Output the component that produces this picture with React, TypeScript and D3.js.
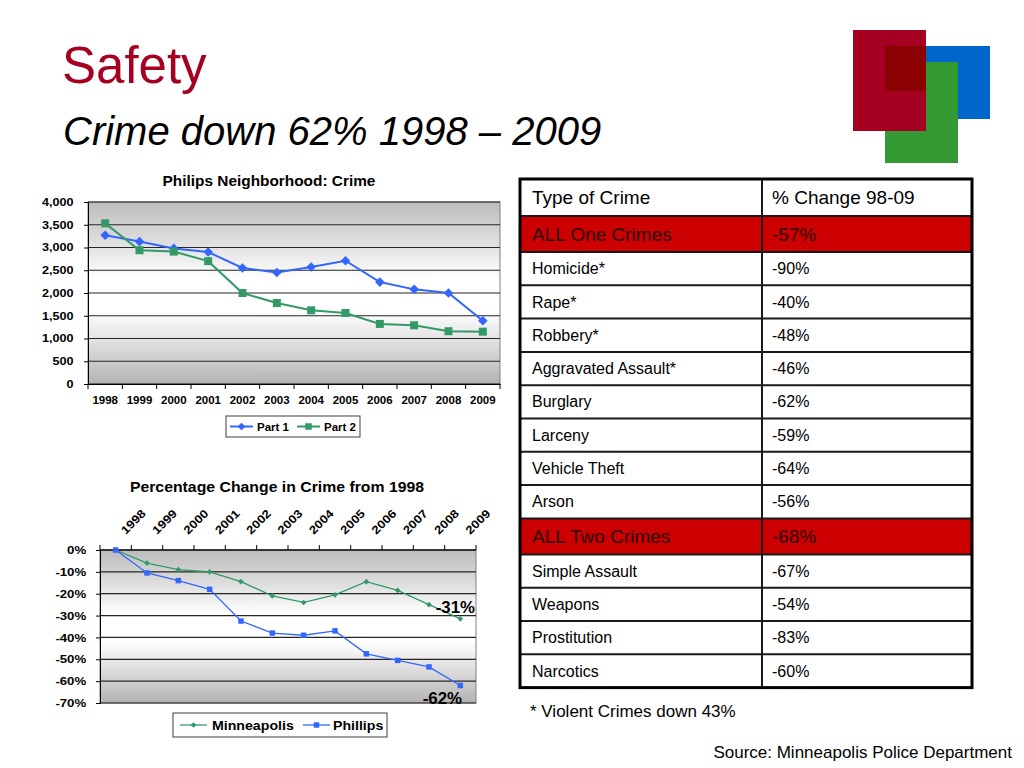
import React, { useEffect, useRef } from 'react'
import * as d3 from 'd3'

const years = ['1998', '1999', '2000', '2001', '2002', '2003', '2004', '2005', '2006', '2007', '2008', '2009']
const part1 = [3270, 3130, 2980, 2900, 2550, 2450, 2570, 2710, 2240, 2080, 2000, 1390]
const part2 = [3530, 2940, 2910, 2700, 2000, 1780, 1620, 1560, 1320, 1290, 1160, 1150]
const minneapolis = [0, -6, -9, -10, -14.5, -21, -24, -20.5, -14.5, -18.5, -25, -31.5]
const phillips = [0, -10.5, -14, -18, -32.5, -38, -39, -37, -47.5, -50.5, -53.5, -62]
const crimeTypes = ['ALL One Crimes', 'Homicide*', 'Rape*', 'Robbery*', 'Aggravated Assault*', 'Burglary', 'Larceny', 'Vehicle Theft', 'Arson', 'ALL Two Crimes', 'Simple Assault', 'Weapons', 'Prostitution', 'Narcotics']
const crimeChanges = ['-57%', '-90%', '-40%', '-48%', '-46%', '-62%', '-59%', '-64%', '-56%', '-68%', '-67%', '-54%', '-83%', '-60%']
const highlightRows = ['ALL One Crimes', 'ALL Two Crimes']

const FONT = '"Liberation Sans", Arial, Helvetica, sans-serif'
const BLUE = '#3366ff'
const GREEN = '#339966'
// the chart pictures in the slide are a bit stretched sideways
const SX = 1.15

export default function App() {
  const svgRef = useRef<SVGSVGElement>(null)

  useEffect(() => {
    if (!svgRef.current) return
    const svg = d3.select(svgRef.current)
    svg.selectAll('*').remove()
    svg.attr('font-family', FONT)

    const defs = svg.append('defs')
    const grad = defs.append('linearGradient').attr('id', 'plotBg').attr('x1', 0).attr('y1', 0).attr('x2', 0).attr('y2', 1)
    ;[
      [0, '#bcbcbc'],
      [0.22, '#dedede'],
      [0.42, '#ffffff'],
      [0.6, '#ffffff'],
      [0.8, '#dadada'],
      [1, '#b3b3b3'],
    ].forEach(([o, c]) => grad.append('stop').attr('offset', o as number).attr('stop-color', c as string))

    // ---- titles
    svg.append('text')
      .attr('x', 62).attr('y', 83)
      .attr('font-size', 51)
      .attr('fill', '#a50021')
      .text('Safety')
    svg.append('text')
      .attr('x', 63).attr('y', 145)
      .attr('font-size', 40)
      .attr('font-style', 'italic')
      .attr('fill', '#000')
      .text('Crime down 62% 1998 \u2013 2009')

    // ---- logo
    svg.append('rect').attr('x', 885).attr('y', 46).attr('width', 105).attr('height', 73).attr('fill', '#0066cc')
    svg.append('rect').attr('x', 885).attr('y', 62).attr('width', 73).attr('height', 101).attr('fill', '#339933')
    svg.append('rect').attr('x', 853).attr('y', 30).attr('width', 73).attr('height', 101).attr('fill', '#a50021')
    svg.append('rect').attr('x', 885).attr('y', 46).attr('width', 41).attr('height', 45).attr('fill', '#8b0000')

    // ---- top chart
    {
      const x = d3.scaleBand().domain(years).range([88, 500])
      const y = d3.scaleLinear().domain([0, 4000]).range([384, 202])
      const g = svg.append('g')
      const cx = (d: string) => (x(d) || 0) + x.bandwidth() / 2

      g.append('text').attr('transform', 'translate(269,186) scale(1.1,1)').attr('text-anchor', 'middle')
        .attr('font-size', 14).attr('font-weight', 'bold').text('Philips Neighborhood: Crime')

      g.append('rect').attr('x', 88).attr('y', 202).attr('width', 412).attr('height', 182)
        .attr('fill', 'url(#plotBg)').attr('stroke', '#808080')

      y.ticks(8).forEach((t) => {
        g.append('line').attr('x1', 88).attr('x2', 500).attr('y1', y(t)).attr('y2', y(t))
          .attr('stroke', '#262626').attr('stroke-width', 1.2)
      })

      const yAxis = g.append('g').attr('transform', 'translate(88,0)')
        .call(d3.axisLeft(y).ticks(8).tickSize(4).tickPadding(8).tickFormat((d) => d3.format(',')(d as number)))
      yAxis.selectAll('text').attr('font-size', 10.5).attr('font-weight', 'bold').attr('font-family', FONT).attr('fill', '#000')
        .attr('transform', `scale(${SX + 0.05},1)`)
      yAxis.selectAll('.domain, .tick line').attr('stroke', '#000')

      const xAxis = g.append('g').attr('transform', 'translate(0,384)')
        .call(d3.axisBottom(x).tickSize(0).tickPadding(13))
      xAxis.selectAll('text').attr('font-size', 10).attr('font-weight', 'bold').attr('font-family', FONT).attr('fill', '#000')
        .attr('transform', `scale(${SX},1)`)
      xAxis.select('.domain').attr('stroke', '#000')
      years.concat(['end']).forEach((d, i) => {
        const xx = i < years.length ? (x(d) || 0) : x.range()[1]
        g.append('line').attr('x1', xx).attr('x2', xx).attr('y1', 384).attr('y2', 389).attr('stroke', '#000')
      })

      const line = d3.line<number>().x((_, i) => cx(years[i])).y((d) => y(d))
      g.append('path').datum(part1).attr('d', line).attr('fill', 'none').attr('stroke', BLUE).attr('stroke-width', 2)
      g.append('path').datum(part2).attr('d', line).attr('fill', 'none').attr('stroke', GREEN).attr('stroke-width', 2)

      const diamond = d3.symbol(d3.symbolSquare, 46)()
      const square = d3.symbol(d3.symbolSquare, 64)()
      g.selectAll('.p1').data(part1).join('path').attr('class', 'p1')
        .attr('d', diamond).attr('fill', BLUE)
        .attr('transform', (d, i) => `translate(${cx(years[i])},${y(d)}) rotate(45)`)
      g.selectAll('.p2').data(part2).join('path').attr('class', 'p2')
        .attr('d', square).attr('fill', GREEN)
        .attr('transform', (d, i) => `translate(${cx(years[i])},${y(d)})`)

      const lg = g.append('g')
      lg.append('rect').attr('x', 226).attr('y', 416).attr('width', 134).attr('height', 21)
        .attr('fill', '#fff').attr('stroke', '#404040')
      lg.append('line').attr('x1', 230).attr('x2', 253).attr('y1', 426.5).attr('y2', 426.5).attr('stroke', BLUE).attr('stroke-width', 2)
      lg.append('path').attr('d', d3.symbol(d3.symbolSquare, 30)()).attr('fill', BLUE).attr('transform', 'translate(241.5,426.5) rotate(45)')
      lg.append('text').attr('x', 257).attr('y', 430.5).attr('font-size', 11.5).attr('font-weight', 'bold').text('Part 1')
      lg.append('line').attr('x1', 297).attr('x2', 320).attr('y1', 426.5).attr('y2', 426.5).attr('stroke', GREEN).attr('stroke-width', 2)
      lg.append('path').attr('d', d3.symbol(d3.symbolSquare, 42)()).attr('fill', GREEN).attr('transform', 'translate(308.5,426.5)')
      lg.append('text').attr('x', 324).attr('y', 430.5).attr('font-size', 11.5).attr('font-weight', 'bold').text('Part 2')
    }

    // ---- bottom chart
    {
      const x = d3.scaleBand().domain(years).range([100, 476])
      const y = d3.scaleLinear().domain([-70, 0]).range([703, 550])
      const g = svg.append('g')
      const cx = (d: string) => (x(d) || 0) + x.bandwidth() / 2

      g.append('text').attr('transform', `translate(277,492) scale(${SX - 0.02},1)`).attr('text-anchor', 'middle')
        .attr('font-size', 14).attr('font-weight', 'bold').text('Percentage Change in Crime from 1998')

      g.append('rect').attr('x', 100).attr('y', 550).attr('width', 376).attr('height', 153)
        .attr('fill', 'url(#plotBg)').attr('stroke', '#808080')

      y.ticks(7).forEach((t) => {
        g.append('line').attr('x1', 100).attr('x2', 476).attr('y1', y(t)).attr('y2', y(t))
          .attr('stroke', '#262626').attr('stroke-width', 1.2)
      })

      const yAxis = g.append('g').attr('transform', 'translate(100,0)')
        .call(d3.axisLeft(y).ticks(7).tickSize(4).tickPadding(8).tickFormat((d) => `${d}%`))
      yAxis.selectAll('text').attr('font-size', 11.5).attr('font-weight', 'bold').attr('font-family', FONT).attr('fill', '#000')
        .attr('transform', `scale(${SX},1)`)
      yAxis.selectAll('.domain, .tick line').attr('stroke', '#000')

      g.append('line').attr('x1', 100).attr('x2', 476).attr('y1', 550).attr('y2', 550).attr('stroke', '#000')
      years.concat(['end']).forEach((d, i) => {
        const xx = i < years.length ? (x(d) || 0) : x.range()[1]
        g.append('line').attr('x1', xx).attr('x2', xx).attr('y1', 545).attr('y2', 550).attr('stroke', '#000')
      })
      g.selectAll('.xl').data(years).join('text').attr('class', 'xl')
        .attr('transform', (d) => `translate(${cx(d) + 10},535) rotate(-45) scale(${SX},1)`)
        .attr('font-size', 11.5).attr('font-weight', 'bold').text((d) => d)

      const line = d3.line<number>().x((_, i) => cx(years[i])).y((d) => y(d))
      g.append('path').datum(minneapolis).attr('d', line).attr('fill', 'none').attr('stroke', GREEN).attr('stroke-width', 1.3)
      g.append('path').datum(phillips).attr('d', line).attr('fill', 'none').attr('stroke', BLUE).attr('stroke-width', 1.3)

      const diamond = d3.symbol(d3.symbolSquare, 16)()
      const square = d3.symbol(d3.symbolSquare, 30)()
      g.selectAll('.mn').data(minneapolis).join('path').attr('class', 'mn')
        .attr('d', diamond).attr('fill', GREEN)
        .attr('transform', (d, i) => `translate(${cx(years[i])},${y(d)}) rotate(45)`)
      g.selectAll('.ph').data(phillips).join('path').attr('class', 'ph')
        .attr('d', square).attr('fill', BLUE)
        .attr('transform', (d, i) => `translate(${cx(years[i])},${y(d)})`)

      const last = years.length - 1
      g.append('text').attr('transform', `translate(${cx(years[last]) - 5},${y(minneapolis[last]) - 6}) scale(1.05,1)`)
        .attr('text-anchor', 'middle').attr('font-size', 16).attr('font-weight', 'bold').text('-31%')
      g.append('text').attr('transform', `translate(${cx(years[last]) - 18},${y(phillips[last]) + 18}) scale(1.05,1)`)
        .attr('text-anchor', 'middle').attr('font-size', 16).attr('font-weight', 'bold').text('-62%')

      const lg = g.append('g')
      lg.append('rect').attr('x', 173).attr('y', 713).attr('width', 214).attr('height', 24)
        .attr('fill', '#fff').attr('stroke', '#404040')
      lg.append('line').attr('x1', 180).attr('x2', 207).attr('y1', 725).attr('y2', 725).attr('stroke', GREEN).attr('stroke-width', 1.3)
      lg.append('path').attr('d', d3.symbol(d3.symbolSquare, 16)()).attr('fill', GREEN).attr('transform', 'translate(193.5,725) rotate(45)')
      lg.append('text').attr('transform', 'translate(212,729.5) scale(1.09,1)').attr('font-size', 13).attr('font-weight', 'bold').text('Minneapolis')
      lg.append('line').attr('x1', 303).attr('x2', 330).attr('y1', 725).attr('y2', 725).attr('stroke', BLUE).attr('stroke-width', 1.3)
      lg.append('path').attr('d', d3.symbol(d3.symbolSquare, 30)()).attr('fill', BLUE).attr('transform', 'translate(316.5,725)')
      lg.append('text').attr('transform', 'translate(333,729.5) scale(1.09,1)').attr('font-size', 13).attr('font-weight', 'bold').text('Phillips')
    }

    // ---- table
    {
      const left = 520
      const mid = 762
      const right = 972
      const rowH = crimeTypes.map((t) => (highlightRows.includes(t) ? 36 : 33.3))
      const heights = [37].concat(rowH)
      const tops: number[] = []
      heights.reduce((acc, h) => { tops.push(acc); return acc + h }, 179)
      const bottom = tops[tops.length - 1] + heights[heights.length - 1]
      const t = svg.append('g')

      t.append('rect').attr('x', left).attr('y', 179).attr('width', right - left).attr('height', bottom - 179).attr('fill', '#fff')
      crimeTypes.forEach((ct, i) => {
        if (highlightRows.includes(ct)) {
          t.append('rect').attr('x', left).attr('y', tops[i + 1]).attr('width', right - left).attr('height', heights[i + 1]).attr('fill', '#cc0000')
        }
      })
      tops.slice(1).forEach((yy) => {
        t.append('line').attr('x1', left).attr('x2', right).attr('y1', yy).attr('y2', yy).attr('stroke', '#1a1a1a').attr('stroke-width', 2)
      })
      t.append('line').attr('x1', mid).attr('x2', mid).attr('y1', 179).attr('y2', bottom).attr('stroke', '#1a1a1a').attr('stroke-width', 2)
      t.append('rect').attr('x', left).attr('y', 179).attr('width', right - left).attr('height', bottom - 179)
        .attr('fill', 'none').attr('stroke', '#000').attr('stroke-width', 3)

      const rows = [['Type of Crime', '% Change 98-09']].concat(crimeTypes.map((c, i) => [c, crimeChanges[i]]))
      rows.forEach((r, i) => {
        const big = i === 0 || highlightRows.includes(r[0])
        const yy = tops[i] + heights[i] / 2
        const color = i > 0 && big ? '#2b0000' : '#000'
        const fs = big ? 19 : 16
        t.append('text').attr('x', 532).attr('y', yy).attr('dy', '0.35em').attr('font-size', fs).attr('fill', color).text(r[0])
        t.append('text').attr('x', 772).attr('y', yy).attr('dy', '0.35em').attr('font-size', fs).attr('fill', color).text(r[1])
      })
    }

    svg.append('text').attr('x', 530).attr('y', 717).attr('font-size', 17).text('* Violent Crimes down 43%')
    svg.append('text').attr('x', 1012).attr('y', 758).attr('text-anchor', 'end').attr('font-size', 17).text('Source: Minneapolis Police Department')
  }, [])

  return (
    <svg
      ref={svgRef}
      width={1024}
      height={768}
      style={{ position: 'absolute', left: 0, top: 0, background: '#fff' }}
    />
  )
}
